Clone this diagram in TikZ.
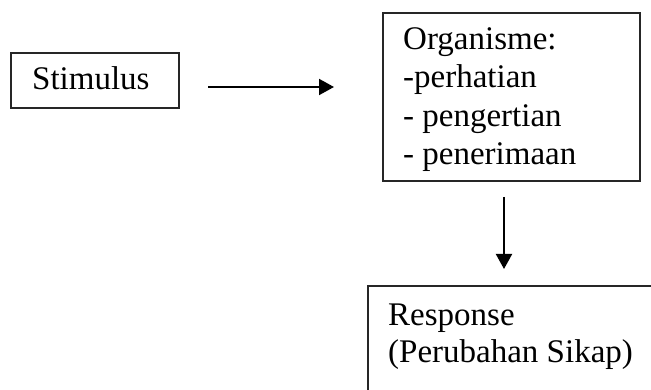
\documentclass[tikz,border=0pt]{standalone}
\usepackage{fontspec}
\setmainfont{Liberation Serif}
\usetikzlibrary{arrows.meta}
\begin{document}
\begin{tikzpicture}[x=1pt,y=-1pt,
  box/.style={draw=black!85, line width=2pt, inner sep=0pt, anchor=north west},
  txt/.style={anchor=base west, inner sep=0pt, font=\fontsize{33}{38}\selectfont},
  conn/.style={line width=2pt, -{Triangle[length=15pt,width=16pt]}}]
\useasboundingbox (0,0) rectangle (651,390);
\clip (0,0) rectangle (651,390);
\node[box, minimum width=168pt, minimum height=55pt] (stim) at (10,52) {};
\node[txt] (stimtxt) at (32,90) {Stimulus};
\node[box, minimum width=257pt, minimum height=168pt] (org) at (382,12) {};
\node[txt] (o1) at (403,50) {Organisme:};
\node[txt] (o2) at (403,88) {-perhatian};
\node[txt] (o3) at (403,127) {- pengertian};
\node[txt] (o4) at (403,165) {- penerimaan};
\node[box, minimum width=320pt, minimum height=140pt] (resp) at (367,285) {};
\node[txt] (r1) at (388,325) {Response};
\node[txt] (r2) at (388,362) {(Perubahan Sikap)};
\coordinate (a1s) at (208,87);
\coordinate (a1e) at (334,87);
\coordinate (a2s) at (504,197);
\coordinate (a2e) at (504,269);
\draw[conn] (a1s) -- (a1e);
\draw[conn] (a2s) -- (a2e);
\end{tikzpicture}
\end{document}
